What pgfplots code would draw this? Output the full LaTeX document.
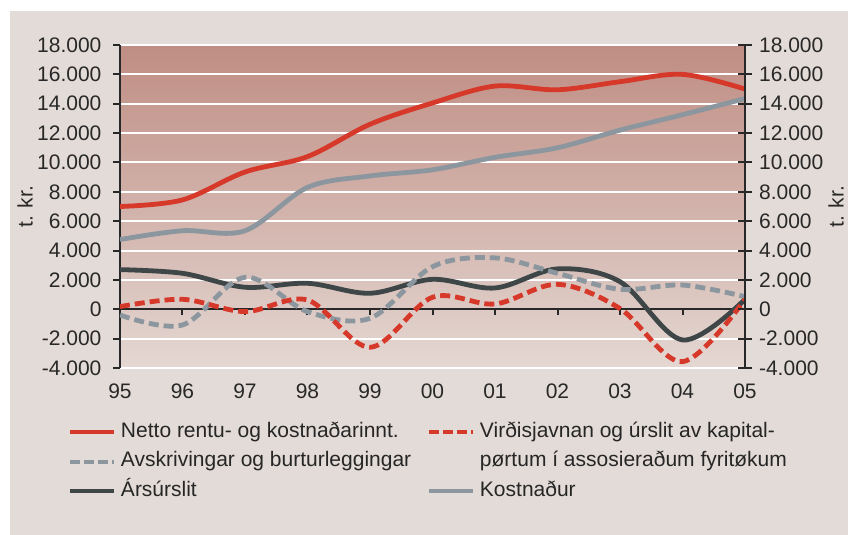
\documentclass[border=0pt]{standalone}
\usepackage{fontspec}
\setmainfont{Liberation Sans}
\usepackage{pgfplots}
\pgfplotsset{compat=1.18}
\definecolor{bg}{RGB}{227,219,215}
\definecolor{gtop}{RGB}{191,141,131}
\definecolor{gbot}{RGB}{228,215,210}
\definecolor{cred}{RGB}{214,56,42}
\definecolor{cgray}{RGB}{140,150,158}
\definecolor{cdark}{RGB}{62,70,72}
\definecolor{axcol}{RGB}{40,40,40}
\pgfplotsset{
  common/.style={
    at={(60pt,83.5pt)}, anchor=south west, scale only axis,
    width=312.5pt, height=161.5pt,
    xmin=1995, xmax=2005, ymin=-4000, ymax=18000,
    ytick={-4000,-2000,...,18000},
    scaled y ticks=false,
    /pgf/number format/.cd, 1000 sep={.}, assume math mode=true, /pgfplots/.cd,
    tick label style={font=\fontsize{10.5}{12}\selectfont, text=axcol},
    axis line style={axcol, line width=1pt},
    major tick style={axcol, line width=1pt},
  },
  solidline/.style={line width=2.4pt, smooth, tension=0.55},
  dashline/.style={line width=2.4pt, smooth, tension=0.55, dash pattern=on 5pt off 2.5pt},
}
\begin{document}
\begin{tikzpicture}[x=1pt,y=1pt]
\path[use as bounding box, fill=white] (0,0) rectangle (424,267.5);
\fill[bg] (5,0) rectangle (424,262);
\begin{axis}[common,
  axis y line*=left, axis x line*=bottom,
  x axis line style={draw=none},
  major x tick style={draw=none},
  tick align=outside, major tick length=3.25pt,
  yticklabel style={xshift=-2.5pt},
  xtick={1995,...,2005},
  xticklabels={95,96,97,98,99,00,01,02,03,04,05},
  xticklabel style={yshift=-1pt},
  axis background/.style={top color=gtop, bottom color=gbot},
  ymajorgrids, grid style={white, line width=1pt},
  legend columns=2,
  legend cell align=left,
  legend style={at={(-0.0832,-0.1672)}, anchor=north west, draw=none, fill=none,
    inner sep=0pt, outer sep=0pt, row sep=4.75pt,
    font=\fontsize{10.5}{12}\selectfont, text=black!85,
    nodes={inner sep=0pt, text height=7.5pt, text depth=2.5pt},
    /tikz/every odd column/.style={column sep=2.5pt},
    /tikz/every even column/.style={column sep=0pt}},
  legend image code/.code={\draw[#1] (0pt,0pt) -- (22pt,0pt);},
]
\draw[axcol, line width=1pt] (axis cs:1995,0) -- (axis cs:2005,0);
\pgfplotsinvokeforeach{1996,1997,1998,1999,2000,2001,2002,2003,2004}{
  \draw[axcol, line width=1pt] (axis cs:#1,0) -- ([yshift=-3pt]axis cs:#1,0);
}
% Kostnaður
\addplot[cgray, solidline, forget plot] coordinates {
 (1995,4750) (1996,5350) (1997,5350) (1998,8300) (1999,9080) (2000,9500)
 (2001,10350) (2002,11000) (2003,12200) (2004,13250) (2005,14350)};
% Netto
\addplot[cred, solidline, forget plot] coordinates {
 (1995,7000) (1996,7450) (1997,9350) (1998,10400) (1999,12600) (2000,14050)
 (2001,15200) (2002,14950) (2003,15500) (2004,16000) (2005,15000)};
% Ársúrslit
\addplot[cdark, solidline, forget plot] coordinates {
 (1995,2700) (1996,2450) (1997,1500) (1998,1770) (1999,1090) (2000,2040)
 (2001,1450) (2002,2750) (2003,1880) (2004,-2090) (2005,680)};
% Avskrivingar
\addplot[cgray, dashline, forget plot] coordinates {
 (1995,-390) (1996,-1070) (1997,2180) (1998,-160) (1999,-615) (2000,2900)
 (2001,3500) (2002,2450) (2003,1360) (2004,1650) (2005,860)};
% Virðisjavnan
\addplot[cred, dashline, forget plot] coordinates {
 (1995,180) (1996,680) (1997,-160) (1998,630) (1999,-2590) (2000,820)
 (2001,360) (2002,1700) (2003,50) (2004,-3570) (2005,680)};
\addlegendimage{cred, line width=2pt}
\addlegendentry{\makebox[153pt][l]{Netto rentu- og kostnaðarinnt.}}
\addlegendimage{cred, line width=2pt, dash pattern=on 5pt off 2pt}
\addlegendentry{Virðisjavnan og úrslit av kapital-}
\addlegendimage{cgray, line width=2pt, dash pattern=on 5pt off 2pt}
\addlegendentry{\makebox[153pt][l]{Avskrivingar og burturleggingar}}
\addlegendimage{draw opacity=0, line width=2pt}
\addlegendentry{pørtum í assosieraðum fyritøkum}
\addlegendimage{cdark, line width=2pt}
\addlegendentry{\makebox[153pt][l]{Ársúrslit}}
\addlegendimage{cgray, line width=2pt}
\addlegendentry{Kostnaður}
\end{axis}
\begin{axis}[common,
  axis y line*=right, axis x line=none,
  tick align=center, major tick length=7pt,
  yticklabel style={xshift=0pt},
]
\end{axis}
\node[rotate=90, font=\fontsize{10.5}{12}\selectfont, text=axcol] at (12.5,164) {t. kr.};
\node[rotate=90, font=\fontsize{10.5}{12}\selectfont, text=axcol] at (418,164) {t. kr.};
\end{tikzpicture}
\end{document}
